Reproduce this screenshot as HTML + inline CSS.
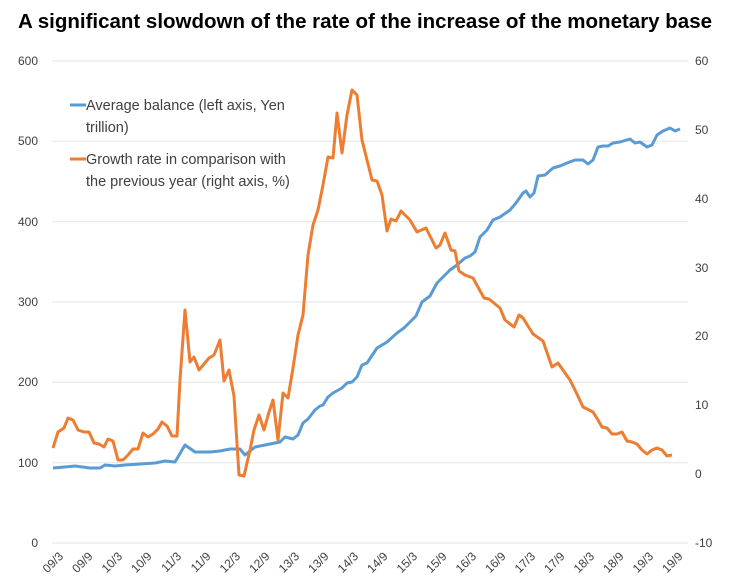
<!DOCTYPE html>
<html><head><meta charset="utf-8"><style>
body{margin:0;background:#fff;}
svg{display:block;font-family:"Liberation Sans",sans-serif;}
</style></head><body>
<svg width="730" height="588" viewBox="0 0 730 588" xmlns="http://www.w3.org/2000/svg">
<rect width="730" height="588" fill="#fff"/>
<text x="365" y="28" text-anchor="middle" font-size="20.5" font-weight="bold" fill="#000" textLength="694" lengthAdjust="spacingAndGlyphs">A significant slowdown of the rate of the increase of the monetary base</text>
<g stroke="#e6e6e6" stroke-width="1">
<line x1="52" x2="688" y1="61" y2="61"/><line x1="52" x2="688" y1="141.3" y2="141.3"/>
<line x1="52" x2="688" y1="221.7" y2="221.7"/><line x1="52" x2="688" y1="302" y2="302"/>
<line x1="52" x2="688" y1="382.3" y2="382.3"/><line x1="52" x2="688" y1="462.7" y2="462.7"/>
<line x1="52" x2="688" y1="543" y2="543"/>
</g>
<g font-size="12" fill="#404040" text-anchor="end">
<text x="38" y="65">600</text><text x="38" y="145">500</text><text x="38" y="226">400</text>
<text x="38" y="306">300</text><text x="38" y="386">200</text><text x="38" y="467">100</text><text x="38" y="547">0</text>
</g>
<g font-size="12" fill="#404040" text-anchor="start">
<text x="695" y="65">60</text><text x="695" y="134">50</text><text x="695" y="203">40</text>
<text x="695" y="272">30</text><text x="695" y="340">20</text><text x="695" y="409">10</text>
<text x="695" y="478">0</text><text x="695" y="547">-10</text>
</g>
<g font-size="12" fill="#404040" text-anchor="end">
<text transform="translate(64,557) rotate(-45)">09/3</text>
<text transform="translate(93.5,557) rotate(-45)">09/9</text>
<text transform="translate(123,557) rotate(-45)">10/3</text>
<text transform="translate(152.5,557) rotate(-45)">10/9</text>
<text transform="translate(182,557) rotate(-45)">11/3</text>
<text transform="translate(211.5,557) rotate(-45)">11/9</text>
<text transform="translate(241,557) rotate(-45)">12/3</text>
<text transform="translate(270.5,557) rotate(-45)">12/9</text>
<text transform="translate(300,557) rotate(-45)">13/3</text>
<text transform="translate(329.5,557) rotate(-45)">13/9</text>
<text transform="translate(359,557) rotate(-45)">14/3</text>
<text transform="translate(388.5,557) rotate(-45)">14/9</text>
<text transform="translate(418,557) rotate(-45)">15/3</text>
<text transform="translate(447.5,557) rotate(-45)">15/9</text>
<text transform="translate(477,557) rotate(-45)">16/3</text>
<text transform="translate(506.5,557) rotate(-45)">16/9</text>
<text transform="translate(536,557) rotate(-45)">17/3</text>
<text transform="translate(565.5,557) rotate(-45)">17/9</text>
<text transform="translate(595,557) rotate(-45)">18/3</text>
<text transform="translate(624.5,557) rotate(-45)">18/9</text>
<text transform="translate(654,557) rotate(-45)">19/3</text>
<text transform="translate(683.5,557) rotate(-45)">19/9</text>
</g>
<polyline fill="none" stroke="#5b9bd5" stroke-width="3" stroke-linejoin="round" points="53,468 65,467 75,466 90,468 100,468 105,465 115,466 125,465 140,464 155,463 165,461 175,462 185,445 195,452 210,452 220,451 230,449 240,449 245,455 255,447 265,445 275,443 280,442 285,437 293,439 298,435 303,423 308,419 315,410 320,406 323,405 328,397 333,393 342,388 347,383 352,382 357,377 362,365 367,363 377,348 387,342 397,333 404,328 410,322 416,316 422,302 430,296 437,283 444,276 450,270 457,265 465,258 470,256 475,252 480,237 487,230 493,220 500,217 510,210 516,203 523,193 526,191 530,197 534,193 538,176 545,175 553,168 560,166 567,163 575,160 583,160 588,164 593,160 598,147 603,146 608,146 613,143 620,142 630,139 635,143 640,142 647,147 652,145 657,135 663,131 670,128 675,131 680,129"/>
<polyline fill="none" stroke="#ed7d31" stroke-width="3" stroke-linejoin="round" points="53,448 58,432 64,428 68,418 73,420 78,430 84,432 89,432 94,443 99,444 104,447 108,439 113,441 118,460 123,460 128,455 133,449 138,449 143,433 148,437 153,434 158,429 162,422 167,426 172,436 177,436 180,380 185,310 190,362 194,357 199,370 204,364 209,358 214,355 220,340 224,381 229,370 234,396 239,475 244,476 250,450 254,430 259,415 264,430 269,412 273,400 278,440 283,393 288,398 293,368 298,335 303,315 308,255 313,225 318,210 323,185 328,157 333,158 337,113 342,153 347,115 352,90 357,95 362,140 367,160 372,180 377,181 382,195 387,231 391,219 396,221 401,211 410,220 417,232 426,228 436,248 440,245 445,233 451,250 455,251 459,271 465,275 473,278 484,298 489,299 500,308 505,320 514,327 519,315 523,318 533,334 543,341 552,367 558,363 570,380 575,390 583,407 593,412 598,420 602,427 607,428 612,434 617,434 622,432 627,441 632,442 637,444 642,450 647,454 652,450 657,448 662,450 667,456 672,455"/>
<g font-size="14.5" fill="#404040">
<line x1="70" x2="86" y1="105" y2="105" stroke="#5b9bd5" stroke-width="3"/>
<text x="86" y="110">Average balance (left axis, Yen</text>
<text x="86" y="132">trillion)</text>
<line x1="70" x2="86" y1="159" y2="159" stroke="#ed7d31" stroke-width="3"/>
<text x="86" y="164">Growth rate in comparison with</text>
<text x="86" y="186">the previous year (right axis, %)</text>
</g>
</svg>
</body></html>
